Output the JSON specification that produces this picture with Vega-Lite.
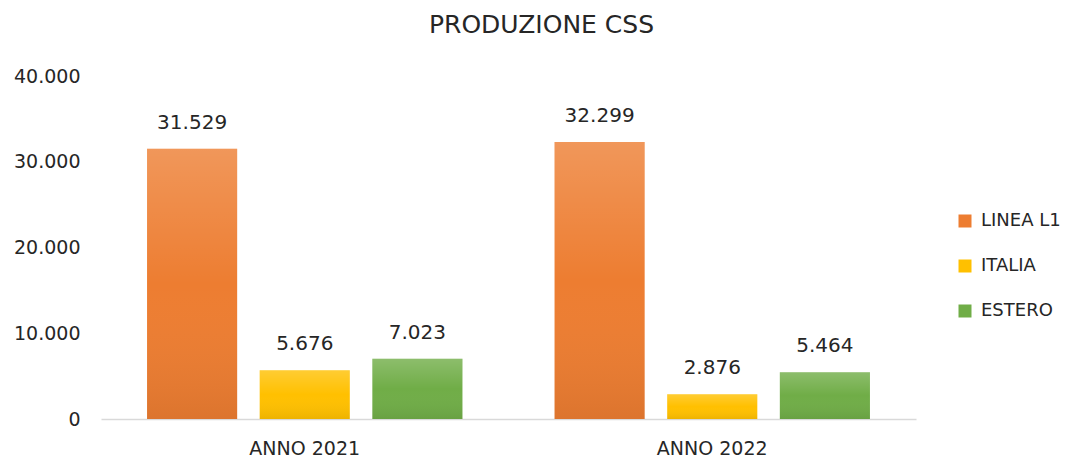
{
  "$schema": "https://vega.github.io/schema/vega-lite/v6.json",
  "width": 815,
  "height": 343,
  "autosize": {"type": "none"},
  "padding": {"left": 101, "top": 76, "right": 150, "bottom": 42},
  "background": "#ffffff",
  "config": {
    "view": {"stroke": null},
    "font": "DejaVu Sans",
    "locale": {"number": {"decimal": ",", "thousands": ".", "grouping": [3], "currency": ["€", ""]}}
  },
  "title": {
    "text": "PRODUZIONE CSS",
    "font": "DejaVu Sans",
    "fontSize": 25,
    "fontWeight": "normal",
    "color": "#262626",
    "anchor": "middle",
    "dx": 33,
    "offset": 29
  },
  "data": {
    "values": [
      {"anno": "ANNO 2021", "serie": "LINEA L1", "valore": 31529},
      {"anno": "ANNO 2021", "serie": "ITALIA", "valore": 5676},
      {"anno": "ANNO 2021", "serie": "ESTERO", "valore": 7023},
      {"anno": "ANNO 2022", "serie": "LINEA L1", "valore": 32299},
      {"anno": "ANNO 2022", "serie": "ITALIA", "valore": 2876},
      {"anno": "ANNO 2022", "serie": "ESTERO", "valore": 5464}
    ]
  },
  "encoding": {
    "x": {
      "field": "anno",
      "type": "nominal",
      "scale": {"paddingInner": 0.226, "paddingOuter": 0.113},
      "axis": {
        "title": null,
        "labelAngle": 0,
        "labelFontSize": 19,
        "labelColor": "#262626",
        "labelFont": "DejaVu Sans",
        "labelPadding": 20,
        "ticks": false,
        "domainColor": "#D9D9D9",
        "domainWidth": 1.5
      }
    },
    "xOffset": {
      "field": "serie",
      "type": "nominal",
      "sort": ["LINEA L1", "ITALIA", "ESTERO"],
      "scale": {"paddingInner": 0.2, "paddingOuter": 0}
    },
    "y": {
      "field": "valore",
      "type": "quantitative",
      "scale": {"domain": [0, 40000]},
      "axis": {
        "title": null,
        "values": [0, 10000, 20000, 30000, 40000],
        "format": ",d",
        "labelFontSize": 19,
        "labelColor": "#262626",
        "labelFont": "DejaVu Sans",
        "labelPadding": 21,
        "ticks": false,
        "domain": false,
        "grid": false
      }
    }
  },
  "layer": [
    {
      "mark": {"type": "bar"},
      "encoding": {
        "color": {
          "field": "serie",
          "type": "nominal",
          "scale": {
            "domain": ["LINEA L1", "ITALIA", "ESTERO"],
            "range": ["#ED7D31", "#FFC000", "#70AD47"]
          },
          "legend": {
            "title": null,
            "orient": "none",
            "legendX": 855,
            "legendY": 136,
            "symbolType": "square",
            "symbolSize": 169,
            "symbolStrokeWidth": 0,
            "symbolOpacity": 1,
            "labelFontSize": 18,
            "labelFont": "DejaVu Sans",
            "labelColor": "#262626",
            "labelOffset": 7,
            "rowPadding": 27,
            "padding": 0
          }
        }
      }
    },
    {
      "mark": {
        "type": "bar",
        "fill": {
          "gradient": "linear",
          "x1": 0, "y1": 0, "x2": 0, "y2": 1,
          "stops": [
            {"offset": 0, "color": "rgba(255,255,255,0.2)"},
            {"offset": 0.5, "color": "rgba(255,255,255,0)"},
            {"offset": 1, "color": "rgba(0,0,0,0.07)"}
          ]
        }
      }
    },
    {
      "mark": {"type": "text", "baseline": "alphabetic", "dy": -20, "fontSize": 20, "font": "DejaVu Sans", "color": "#262626"},
      "encoding": {
        "text": {"field": "valore", "type": "quantitative", "format": ",d"}
      }
    }
  ]
}
